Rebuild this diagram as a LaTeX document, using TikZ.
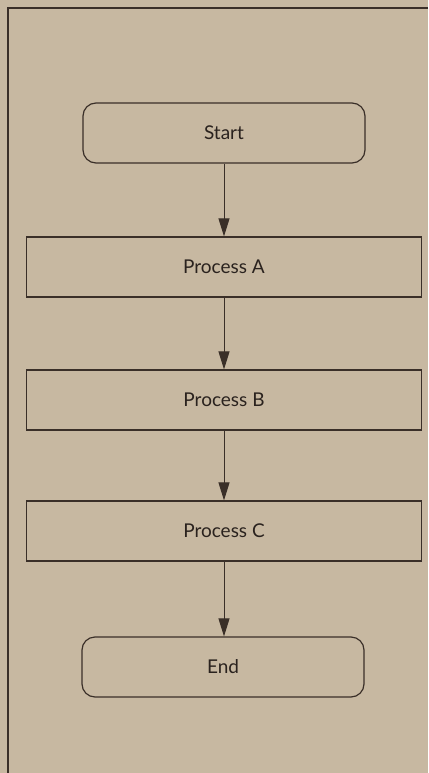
\documentclass[tikz,border=0pt]{standalone}
\usepackage{fontspec}
\setmainfont{Lato}
\usetikzlibrary{arrows.meta}
\definecolor{paper}{HTML}{C7B8A1}
\definecolor{ink}{HTML}{3A2F28}
\definecolor{textink}{HTML}{2A221E}
\tikzset{
  terminal/.style={draw=ink, line width=1.2pt, rounded corners=13pt,
    minimum width=282pt, minimum height=60pt, inner sep=0pt,
    font=\fontsize{19}{22}\selectfont, text=textink},
  procbox/.style={draw=ink, line width=1.2pt,
    minimum width=395pt, minimum height=60pt, inner sep=0pt,
    font=\fontsize{19}{22}\selectfont, text=textink},
  flow/.style={draw=ink, line width=1pt,
    -{Triangle[length=18pt,width=11pt]}},
  frameline/.style={draw=ink, line width=2.6pt}
}
\begin{document}
\begin{tikzpicture}[x=1pt,y=-1pt]
  \fill[paper] (0,0) rectangle (428,773);
  \useasboundingbox (0,0) rectangle (428,773);
  % frame: top and left rules
  \coordinate (fTR) at (428,8);
  \coordinate (fTL) at (8,8);
  \coordinate (fBL) at (8,773);
  \draw[frameline] (fTR) -- (fTL) -- (fBL);
  % flowchart
  \node[terminal] (start) at (224,133) {Start};
  \node[procbox]  (pa)    at (224,267) {Process A};
  \node[procbox]  (pb)    at (224,400) {Process B};
  \node[procbox]  (pc)    at (224,531) {Process C};
  \node[terminal] (fin)   at (223,667) {End};
  \draw[flow] (start.south) -- (pa.north);
  \draw[flow] (pa.south) -- (pb.north);
  \draw[flow] (pb.south) -- (pc.north);
  \draw[flow] (pc.south) -- (fin.north -| pc.south);
\end{tikzpicture}
\end{document}
